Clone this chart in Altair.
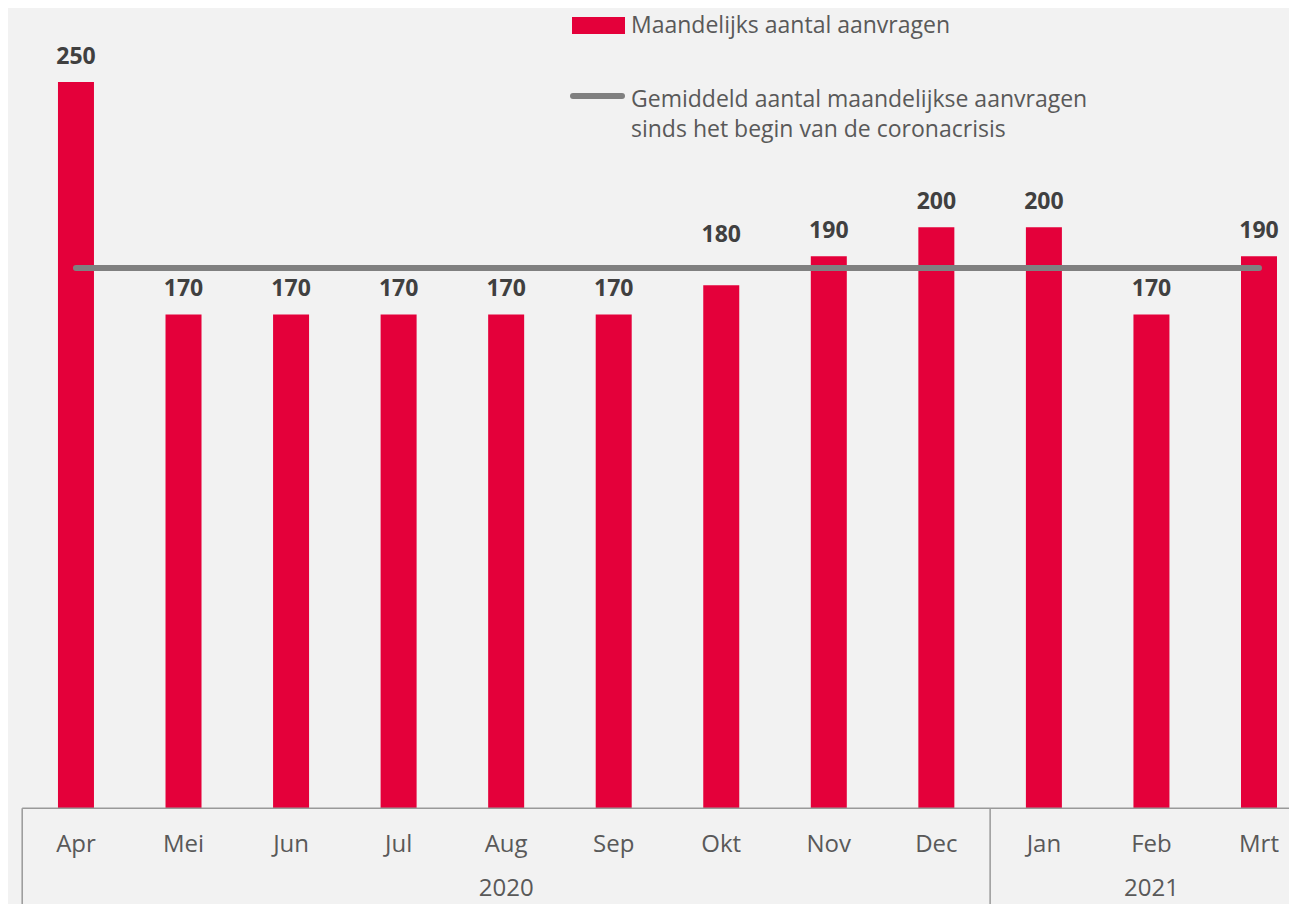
import altair as alt
import pandas as pd

months = ["Apr", "Mei", "Jun", "Jul", "Aug", "Sep", "Okt", "Nov", "Dec", "Jan", "Feb", "Mrt"]
values = [250, 170, 170, 170, 170, 170, 180, 190, 200, 200, 170, 190]
years = ["2020", "2021"]
year_centers = [4, 10]
year_bounds = [-0.5, 8.5]
average = 186

bar_label = "Maandelijks aantal aanvragen"
avg_label = ["Gemiddeld aantal maandelijkse aanvragen", "sinds het begin van de coronacrisis"]

RED = "#e4003a"
GREY_LINE = "#808080"
AXIS = "#999999"
TXT = "#595959"
LBL = "#404040"
FONT = "Open Sans"

df = pd.DataFrame({"i": list(range(len(months))), "month": months, "value": values})
df_year = pd.DataFrame({"i": year_centers, "year": years})
df_sep = pd.DataFrame({"i": year_bounds, "z": [0, 0]})
df_avg = pd.DataFrame({"a": [0], "b": [len(months) - 1], "v": [average]})

W, H = 1281, 896
xs = alt.Scale(domain=[-0.632, 11.279], nice=False, zero=False, padding=0)
ys = alt.Scale(domain=[-33.0, 275.5], nice=False, zero=False, padding=0)

base = alt.Chart(df)

bars = base.mark_bar(color=RED, size=36).encode(
    x=alt.X("i:Q", scale=xs, axis=None),
    y=alt.Y("value:Q", scale=ys, axis=None),
    y2=alt.datum(0),
)

# labels that would collide with the average line are lifted above it
labels = base.transform_calculate(
    lv=f"datum.value < {average} && datum.value > {average - 12} ? datum.value + 8.6 : datum.value"
).mark_text(font=FONT, fontSize=23, fontWeight="bold", color=LBL,
            baseline="alphabetic", dy=-18).encode(
    x=alt.X("i:Q", scale=xs),
    y=alt.Y("lv:Q", scale=ys),
    text="value:Q",
)

avg_line = alt.Chart(df_avg).mark_rule(color=GREY_LINE, strokeWidth=6, strokeCap="round").encode(
    x=alt.X("a:Q", scale=xs),
    x2="b:Q",
    y=alt.Y("v:Q", scale=ys),
)

axis_line = alt.Chart(pd.DataFrame({"a": [-0.5], "z": [0]})).mark_rule(color=AXIS, strokeWidth=1.5).encode(
    x=alt.X("a:Q", scale=xs),
    x2=alt.value(W),
    y=alt.Y("z:Q", scale=ys),
)

sep_lines = alt.Chart(df_sep).mark_rule(color=AXIS, strokeWidth=1.5).encode(
    x=alt.X("i:Q", scale=xs),
    y=alt.Y("z:Q", scale=ys),
    y2=alt.value(H),
)

month_txt = base.mark_text(font=FONT, fontSize=24, color=TXT, baseline="alphabetic").encode(
    x=alt.X("i:Q", scale=xs),
    y=alt.value(844),
    text="month:N",
)

year_txt = alt.Chart(df_year).mark_text(font=FONT, fontSize=24, color=TXT, baseline="alphabetic").encode(
    x=alt.X("i:Q", scale=xs),
    y=alt.value(888),
    text="year:N",
)

leg_rect = alt.Chart(pd.DataFrame({"k": [bar_label]})).mark_rect(color=RED).encode(
    x=alt.value(564), x2=alt.value(617), y=alt.value(9), y2=alt.value(26)
)
leg_text1 = alt.Chart(pd.DataFrame({"k": [bar_label]})).mark_text(
    font=FONT, fontSize=23, color=TXT, align="left", baseline="alphabetic").encode(
    x=alt.value(623), y=alt.value(25), text="k:N"
)
leg_line = alt.Chart(pd.DataFrame({"k": ["avg"]})).mark_rule(
    color=GREY_LINE, strokeWidth=6, strokeCap="round").encode(
    x=alt.value(565), x2=alt.value(614), y=alt.value(88)
)
leg_text2 = alt.Chart(pd.DataFrame({"k": [avg_label]})).mark_text(
    font=FONT, fontSize=23, color=TXT, align="left", baseline="alphabetic", lineHeight=30).encode(
    x=alt.value(623), y=alt.value(99), text="k"
)

chart = alt.layer(
    bars, axis_line, sep_lines, avg_line, labels, month_txt, year_txt,
    leg_rect, leg_text1, leg_line, leg_text2,
).properties(
    width=W, height=H, padding=0, background="#f2f2f2", autosize=alt.AutoSizeParams(type="none")
).configure_view(stroke=None)

chart.save("out.html", embed_options={"renderer": "svg", "actions": False})
